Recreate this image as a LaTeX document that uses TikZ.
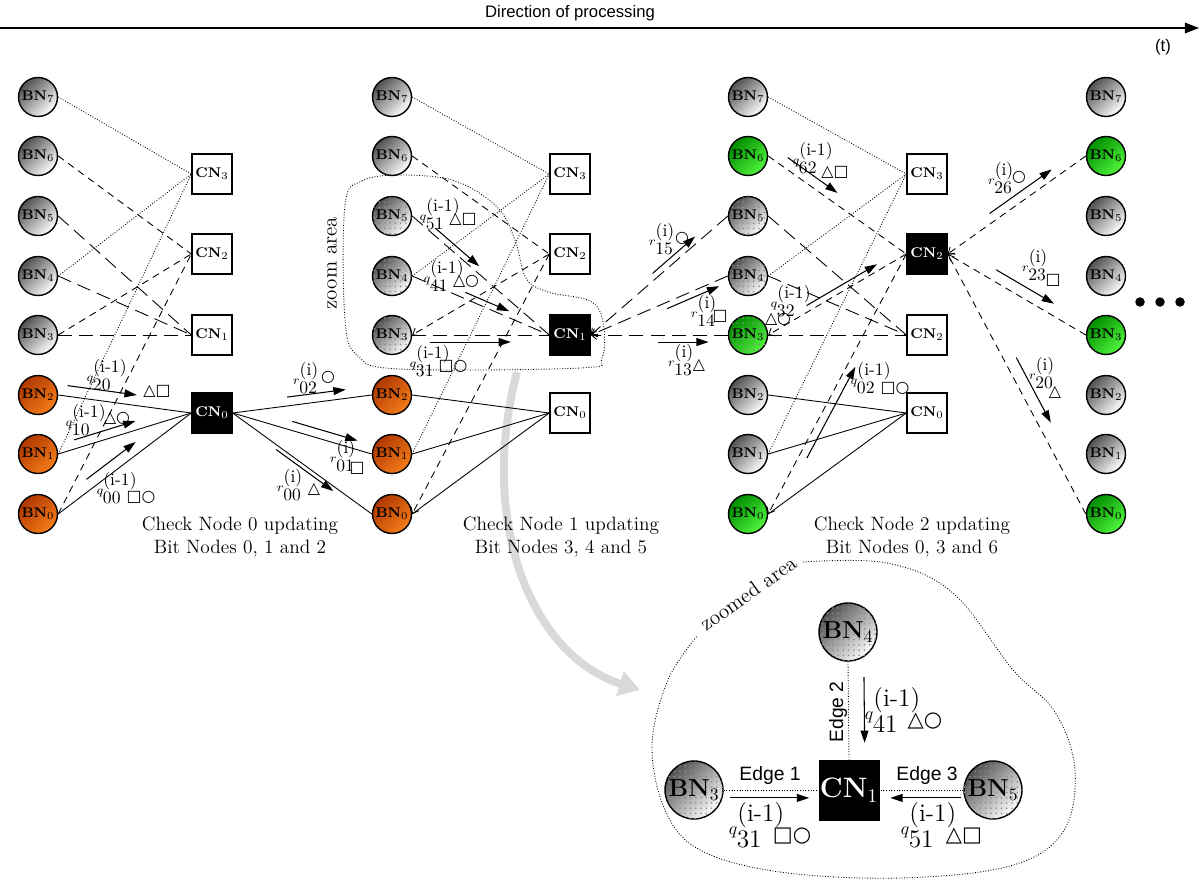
\documentclass[tikz,border=0pt]{standalone}
\usepackage{amsmath, amssymb}
\usepackage{fontspec}
\newfontfamily\sansf{Liberation Sans}
\newfontfamily\symf{DejaVu Sans}
\usepackage{tikz}
\usetikzlibrary{
  arrows.meta,
  calc,
  patterns,
  shapes
}

\definecolor{bngray}{RGB}{80,80,80}
\definecolor{bnorangedark}{RGB}{175,55,0}
\definecolor{bnorange}{RGB}{245,125,25}
\definecolor{bngreendark}{RGB}{0,140,0}
\definecolor{bngreen}{RGB}{80,245,60}

\newcommand{\qmsg}[1]{$\scriptstyle q^{\textstyle(\mathrm{i}\text{-}1)}_{\textstyle #1}$}
\newcommand{\rmsg}[1]{$\scriptstyle r^{\textstyle(\mathrm{i})}_{\textstyle #1}$}

\begin{document}
\begin{tikzpicture}[x=0.02cm, y=-0.02cm,
    bnbase/.style={circle, draw, line width=0.8pt, minimum size=0.78cm, inner sep=0pt,
      font=\fontsize{8}{9}\selectfont\bfseries},
    graybn/.style={bnbase, top color=bngray, bottom color=white, shading angle=45},
    orangebn/.style={bnbase, top color=bnorangedark, bottom color=bnorange, shading angle=45},
    greenbn/.style={bnbase, top color=bngreendark, bottom color=bngreen, shading angle=45},
    speckled/.style={postaction={pattern=dots, pattern color=black!45}},
    cn/.style={rectangle, draw, line width=0.8pt, fill=white, minimum size=0.8cm, inner sep=0pt,
      font=\fontsize{8}{9}\selectfont\bfseries},
    activecn/.style={cn, fill=black, text=white},
    bigbn/.style={circle, draw, line width=0.8pt, minimum size=1.16cm, inner sep=0pt,
      font=\fontsize{14}{16}\selectfont\bfseries, top color=bngray, bottom color=white,
      shading angle=45},
    bigcn/.style={rectangle, draw, fill=black, text=white, minimum size=1.2cm, inner sep=0pt,
      font=\fontsize{16}{18}\selectfont\bfseries},
    e0/.style={line width=0.5pt},
    e1/.style={line width=0.5pt, dash pattern=on 8pt off 4pt},
    e2/.style={line width=0.5pt, dash pattern=on 4pt off 3pt},
    e3/.style={line width=0.5pt, dash pattern=on 0.5pt off 1pt},
    tip/.style={-{Straight Barb[length=3pt, width=5pt]}},
    msg/.style={line width=0.6pt, -{Triangle[length=7pt, width=4.5pt]}},
    lbl/.style={font=\normalsize, inner sep=0pt},
    shp/.style={font=\symf\small, inner sep=0pt},
    zlbl/.style={font=\Large, inner sep=0pt},
    zshp/.style={font=\symf\large, inner sep=0pt},
    zoomline/.style={line width=0.5pt, dash pattern=on 0.5pt off 1pt},
    edgelbl/.style={font=\sansf\fontsize{11}{13}\selectfont, inner sep=1pt},
    caption/.style={font=\fontsize{11}{13}\selectfont, align=center}
  ]
    \useasboundingbox (0,0) rectangle (1200,882);

    % time axis on top
    \coordinate (tstart) at (0,28);
    \coordinate (tend) at (1199,28);
    \draw[line width=0.8pt, -{Triangle[length=8pt, width=6pt]}] (tstart) -- (tend);
    \node[font=\sansf\fontsize{9.5}{11}\selectfont] (title) at (570,13) {Direction of processing};
    \node[font=\sansf\fontsize{9.5}{11}\selectfont] (tlabel) at (1163,47) {(t)};

    % grey arrow from the zoom area down to the zoomed area
    \coordinate (zoomsrc) at (517,372);
    \coordinate (zoomdst) at (640,690);
    \draw[line width=4.5pt, black!15, -{Triangle[length=12pt, width=14pt]}]
      (zoomsrc) .. controls (478,520) and (530,655) .. (zoomdst);

    % 1. check node 0 updating
    \node[graybn] (a7) at (38,97) {BN$_7$};
    \node[graybn] (a6) at (38,156) {BN$_6$};
    \node[graybn] (a5) at (38,216) {BN$_5$};
    \node[graybn] (a4) at (38,276) {BN$_4$};
    \node[graybn] (a3) at (38,335) {BN$_3$};
    \node[orangebn] (a2) at (38,395) {BN$_2$};
    \node[orangebn] (a1) at (38,454) {BN$_1$};
    \node[orangebn] (a0) at (38,514) {BN$_0$};
    \node[cn] (ca3) at (212,174) {CN$_3$};
    \node[cn] (ca2) at (212,254) {CN$_2$};
    \node[cn] (ca1) at (212,335) {CN$_1$};
    \node[activecn] (ca0) at (212,413) {CN$_0$};

    \draw[e3] (a7.east) -- (ca3.west);
    \draw[e3] (a4.east) -- (ca3.west);
    \draw[e3] (a1.east) -- (ca3.west);
    \draw[e2] (a6.east) -- (ca2.west);
    \draw[e2] (a3.east) -- (ca2.west);
    \draw[e2] (a0.east) -- (ca2.west);
    \draw[e1] (a5.east) -- (ca1.west);
    \draw[e1] (a4.east) -- (ca1.west);
    \draw[e1] (a3.east) -- (ca1.west);
    \draw[e0] (a2.east) -- (ca0.west);
    \draw[e0] (a1.east) -- (ca0.west);
    \draw[e0] (a0.east) -- (ca0.west);

    % 2. check node 1 updating
    \node[graybn] (b7) at (392,97) {BN$_7$};
    \node[graybn] (b6) at (392,156) {BN$_6$};
    \node[graybn, speckled] (b5) at (392,216) {BN$_5$};
    \node[graybn, speckled] (b4) at (392,276) {BN$_4$};
    \node[graybn, speckled] (b3) at (392,335) {BN$_3$};
    \node[orangebn] (b2) at (392,395) {BN$_2$};
    \node[orangebn] (b1) at (392,454) {BN$_1$};
    \node[orangebn] (b0) at (392,514) {BN$_0$};
    \node[cn] (cb3) at (570,174) {CN$_3$};
    \node[cn] (cb2) at (570,254) {CN$_2$};
    \node[activecn] (cb1) at (570,335) {CN$_1$};
    \node[cn] (cb0) at (570,413) {CN$_0$};

    \draw[e0] (ca0.east) -- (b2.west);
    \draw[e0] (ca0.east) -- (b1.west);
    \draw[e0] (ca0.east) -- (b0.west);

    \draw[e3] (b7.east) -- (cb3.west);
    \draw[e3] (b4.east) -- (cb3.west);
    \draw[e3] (b1.east) -- (cb3.west);
    \draw[e2] (b6.east) -- (cb2.west);
    \draw[e2, tip] (cb2.west) -- (b3.east);
    \draw[e2, tip] (cb2.west) -- (b0.east);
    \draw[e1] (b5.east) -- (cb1.west);
    \draw[e1] (b4.east) -- (cb1.west);
    \draw[e1] (b3.east) -- (cb1.west);
    \draw[e0] (b2.east) -- (cb0.west);
    \draw[e0] (b1.east) -- (cb0.west);
    \draw[e0] (b0.east) -- (cb0.west);

    % 3. check node 2 updating
    \node[graybn] (c7) at (748,97) {BN$_7$};
    \node[greenbn] (c6) at (748,156) {BN$_6$};
    \node[graybn, speckled] (c5) at (748,216) {BN$_5$};
    \node[graybn, speckled] (c4) at (748,276) {BN$_4$};
    \node[greenbn, speckled] (c3) at (748,335) {BN$_3$};
    \node[graybn] (c2) at (748,395) {BN$_2$};
    \node[graybn] (c1) at (748,454) {BN$_1$};
    \node[greenbn] (c0) at (748,514) {BN$_0$};
    \node[cn] (cc3) at (927,174) {CN$_3$};
    \node[activecn] (cc2) at (927,254) {CN$_2$};
    \node[cn] (cc1) at (927,335) {CN$_2$};
    \node[cn] (cc0) at (927,413) {CN$_0$};

    \draw[e1, tip] (c5.west) -- (cb1.east);
    \draw[e1, tip] (c4.west) -- (cb1.east);
    \draw[e1, tip] (c3.west) -- (cb1.east);

    \draw[e3] (c7.east) -- (cc3.west);
    \draw[e3] (c4.east) -- (cc3.west);
    \draw[e3] (c1.east) -- (cc3.west);
    \draw[e2] (c6.east) -- (cc2.west);
    \draw[e2, tip] (cc2.west) -- (c3.east);
    \draw[e2, tip] (cc2.west) -- (c0.east);
    \draw[e1] (c5.east) -- (cc1.west);
    \draw[e1] (c4.east) -- (cc1.west);
    \draw[e1] (c3.east) -- (cc1.west);
    \draw[e0] (c2.east) -- (cc0.west);
    \draw[e0] (c1.east) -- (cc0.west);
    \draw[e0] (c0.east) -- (cc0.west);

    % 4. next column of bit nodes
    \node[graybn] (d7) at (1106,97) {BN$_7$};
    \node[greenbn] (d6) at (1106,156) {BN$_6$};
    \node[graybn] (d5) at (1106,216) {BN$_5$};
    \node[graybn] (d4) at (1106,276) {BN$_4$};
    \node[greenbn] (d3) at (1106,335) {BN$_3$};
    \node[graybn] (d2) at (1106,395) {BN$_2$};
    \node[graybn] (d1) at (1106,454) {BN$_1$};
    \node[greenbn] (d0) at (1106,514) {BN$_0$};

    \draw[e2, tip] (d6.west) -- (cc2.east);
    \draw[e2, tip] (d3.west) -- (cc2.east);
    \draw[e2, tip] (d0.west) -- (cc2.east);

    \node[circle, fill, minimum size=0.19cm, inner sep=0pt] (more1) at (1140,302) {};
    \node[circle, fill, minimum size=0.19cm, inner sep=0pt] (more2) at (1160,302) {};
    \node[circle, fill, minimum size=0.19cm, inner sep=0pt] (more3) at (1180,302) {};

    % messages sent in each step
    \draw[msg] ($(a2.east)!0.06!(ca0.west)!6pt!90:(ca0.west)$) -- ($(a2.east)!0.58!(ca0.west)!6pt!90:(ca0.west)$);
    \draw[msg] ($(a1.east)!0.14!(ca0.west)!5pt!90:(ca0.west)$) -- ($(a1.east)!0.60!(ca0.west)!5pt!90:(ca0.west)$);
    \draw[msg] ($(a0.east)!0.26!(ca0.west)!6pt!90:(ca0.west)$) -- ($(a0.east)!0.63!(ca0.west)!6pt!90:(ca0.west)$);
    \draw[msg] ($(ca0.east)!0.40!(b2.west)!5pt!90:(b2.west)$) -- ($(ca0.east)!0.82!(b2.west)!5pt!90:(b2.west)$);
    \draw[msg] ($(ca0.east)!0.41!(b1.west)!5pt!90:(b1.west)$) -- ($(ca0.east)!0.88!(b1.west)!5pt!90:(b1.west)$);
    \draw[msg] ($(ca0.east)!0.33!(b0.west)!2.3pt!-90:(b0.west)$) -- ($(ca0.east)!0.74!(b0.west)!2.3pt!-90:(b0.west)$);

    \draw[msg] ($(b5.east)!0.14!(cb1.west)!3.4pt!90:(cb1.west)$) -- ($(b5.east)!0.46!(cb1.west)!3.4pt!90:(cb1.west)$);
    \draw[msg] ($(b4.east)!0.37!(cb1.west)!3.4pt!90:(cb1.west)$) -- ($(b4.east)!0.69!(cb1.west)!3.4pt!90:(cb1.west)$);
    \draw[msg] ($(b3.east)!0.13!(cb1.west)!4pt!-90:(cb1.west)$) -- ($(b3.east)!0.72!(cb1.west)!4pt!-90:(cb1.west)$);
    \draw[msg] ($(cb1.east)!0.48!(c5.west)!3.4pt!90:(c5.west)$) -- ($(cb1.east)!0.79!(c5.west)!3.4pt!90:(c5.west)$);
    \draw[msg] ($(cb1.east)!0.54!(c4.west)!3.4pt!-90:(c4.west)$) -- ($(cb1.east)!0.92!(c4.west)!3.4pt!-90:(c4.west)$);
    \draw[msg] ($(cb1.east)!0.49!(c3.west)!4pt!-90:(c3.west)$) -- ($(cb1.east)!0.86!(c3.west)!4pt!-90:(c3.west)$);

    \draw[msg] ($(c6.east)!0.10!(cc2.west)!5.7pt!90:(cc2.west)$) -- ($(c6.east)!0.46!(cc2.west)!5.7pt!90:(cc2.west)$);
    \draw[msg] ($(c3.east)!0.30!(cc2.west)!3.4pt!90:(cc2.west)$) -- ($(c3.east)!0.81!(cc2.west)!3.4pt!90:(cc2.west)$);
    \draw[msg] ($(c0.east)!0.23!(cc2.west)!4.5pt!-90:(cc2.west)$) -- ($(c0.east)!0.58!(cc2.west)!4.5pt!-90:(cc2.west)$);
    \draw[msg] ($(cc2.east)!0.34!(d6.west)!5pt!90:(d6.west)$) -- ($(cc2.east)!0.79!(d6.west)!5pt!90:(d6.west)$);
    \draw[msg] ($(cc2.east)!0.31!(d3.west)!6.2pt!90:(d3.west)$) -- ($(cc2.east)!0.73!(d3.west)!6.2pt!90:(d3.west)$);
    \draw[msg] ($(cc2.east)!0.42!(d0.west)!6.8pt!90:(d0.west)$) -- ($(cc2.east)!0.67!(d0.west)!6.8pt!90:(d0.west)$);

    % message labels
    \node[lbl] (lq20) at (107,375) {\qmsg{20}};
    \node[shp] (sq20) at (157,391) {△□};
    \node[lbl] (lq10) at (86,420) {\qmsg{10}};
    \node[shp] (sq10) at (117,418) {△○};
    \node[lbl] (lq00) at (117,488) {\qmsg{00}};
    \node[shp] (sq00) at (141,497) {□○};
    \node[lbl] (lr02) at (306,378) {\rmsg{02}};
    \node[shp] (sr02) at (328,377) {○};
    \node[lbl] (lr01) at (343,456) {\rmsg{01}};
    \node[shp] (sr01) at (357,468) {□};
    \node[lbl] (lr00) at (290,485) {\rmsg{00}};
    \node[shp] (sr00) at (314,489) {△};

    \node[lbl] (lq51) at (440,214) {\qmsg{51}};
    \node[shp] (sq51) at (463,219) {△□};
    \node[lbl] (lq41) at (444,276) {\qmsg{41}};
    \node[shp] (sq41) at (466,281) {△○};
    \node[lbl] (lq31) at (430,361) {\qmsg{31}};
    \node[shp] (sq31) at (453,366) {□○};
    \node[lbl] (lr15) at (662,239) {\rmsg{15}};
    \node[shp] (sr15) at (682,238) {○};
    \node[lbl] (lr14) at (704,311) {\rmsg{14}};
    \node[shp] (sr14) at (720,316) {□};
    \node[lbl] (lr13) at (681,360) {\rmsg{13}};
    \node[shp] (sr13) at (699,365) {△};

    \node[lbl] (lq62) at (813,158) {\qmsg{62}};
    \node[shp] (sq62) at (835,172) {△□};
    \node[lbl] (lq32) at (791,301) {\qmsg{32}};
    \node[shp] (sq32) at (778,319) {△○};
    \node[lbl] (lq02) at (871,378) {\qmsg{02}};
    \node[shp] (sq02) at (895,388) {□○};
    \node[lbl] (lr26) at (1001,178) {\rmsg{26}};
    \node[shp] (sr26) at (1019,177) {○};
    \node[lbl] (lr23) at (1035,265) {\rmsg{23}};
    \node[shp] (sr23) at (1053,280) {□};
    \node[lbl] (lr20) at (1042,373) {\rmsg{20}};
    \node[shp] (sr20) at (1055,392) {△};

    % captions
    \node[caption] (cap0) at (240,537) {Check Node 0 updating\\Bit Nodes 0, 1 and 2};
    \node[caption] (cap1) at (561,537) {Check Node 1 updating\\Bit Nodes 3, 4 and 5};
    \node[caption] (cap2) at (912,537) {Check Node 2 updating\\Bit Nodes 0, 3 and 6};

    % zoom area round check node 1
    \draw[zoomline] plot[smooth cycle, tension=0.6] coordinates {(345,205) (362,181) (400,175) (455,181)
      (497,207) (515,240) (526,278) (548,292) (590,301) (603,322) (602,358) (580,368) (400,369)
      (358,356) (345,320)};
    \node[font=\fontsize{12}{14}\selectfont, rotate=90] (zoomtxt) at (332,263) {zoom area};

    % zoomed area
    \draw[zoomline] plot[smooth, tension=0.6] coordinates {(803,562) (887,563) (953,593) (1013,670)
      (1055,712) (1075,770) (1063,832) (1010,866) (900,878) (780,872) (700,850) (665,810)
      (652,745) (668,680) (697,636)};
    \node[font=\fontsize{12}{14}\selectfont, rotate=35.5] (zoomedtxt) at (748,593) {zoomed area};

    \node[bigbn, speckled] (zb4) at (848,632) {BN$_4$};
    \node[bigcn] (zc1) at (849,790) {CN$_1$};
    \node[bigbn, speckled] (zb3) at (694,790) {BN$_3$};
    \node[bigbn, speckled] (zb5) at (993,790) {BN$_5$};

    \draw[zoomline] (zb4.south) -- (zc1.north);
    \draw[zoomline] (zb3.east) -- (zc1.west);
    \draw[zoomline] (zb5.west) -- (zc1.east);
    \node[edgelbl, rotate=90] (le2) at (838,712) {Edge 2};
    \node[edgelbl] (le1) at (770,775) {Edge 1};
    \node[edgelbl] (le3) at (927,775) {Edge 3};

    \draw[msg] ($(zb4.south)!0.16!(zc1.north)!9pt!90:(zc1.north)$) -- ($(zb4.south)!0.83!(zc1.north)!9pt!90:(zc1.north)$);
    \draw[msg] ($(zb3.east)!0.07!(zc1.west)!4.5pt!-90:(zc1.west)$) -- ($(zb3.east)!0.90!(zc1.west)!4.5pt!-90:(zc1.west)$);
    \draw[msg] ($(zb5.west)!0.03!(zc1.east)!4.5pt!90:(zc1.east)$) -- ($(zb5.west)!0.87!(zc1.east)!4.5pt!90:(zc1.east)$);

    \node[zlbl] (lz41) at (893,710) {\qmsg{41}};
    \node[zshp] (sz41) at (925,721) {△○};
    \node[zlbl] (lz31) at (757,825) {\qmsg{31}};
    \node[zshp] (sz31) at (792,836) {□○};
    \node[zlbl] (lz51) at (929,825) {\qmsg{51}};
    \node[zshp] (sz51) at (964,836) {△□};
\end{tikzpicture}
\end{document}
